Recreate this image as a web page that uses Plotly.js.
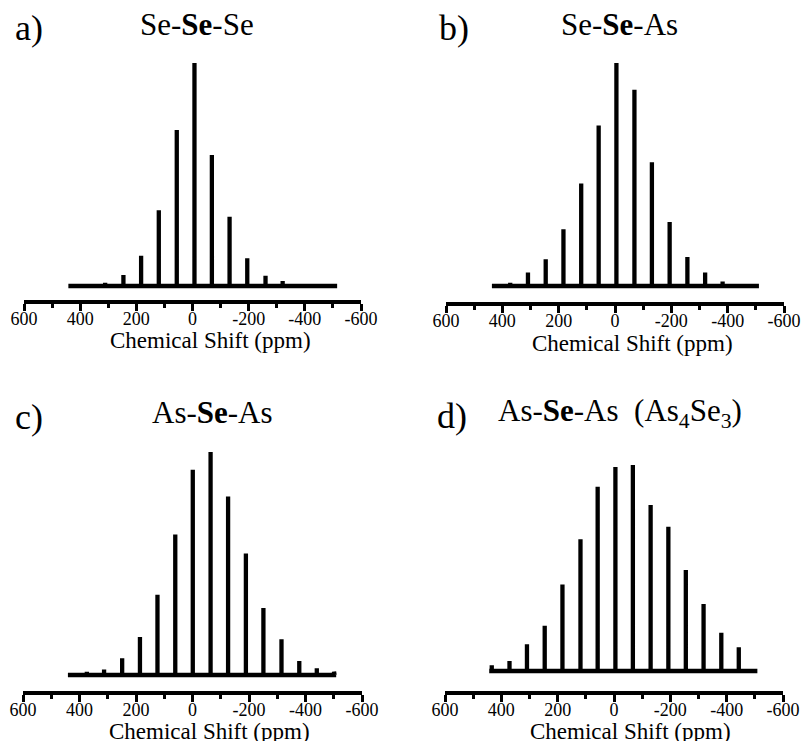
<!DOCTYPE html>
<html>
<head>
<meta charset="utf-8">
<script src="https://cdn.plot.ly/plotly-3.0.1.min.js"></script>
<style>
html,body{margin:0;padding:0;background:#fff;}
#chart{width:806px;height:741px;}
</style>
</head>
<body>
<div id="chart"></div>
<script>
// ---------- data ----------
const tickVals = [600, 400, 200, 0, -200, -400, -600];
const tickText = ['600', '400', '200', '0', '-200', '-400', '-600'];
const minorTickVals = [500, 300, 100, -100, -300, -500];
const axisTitle = 'Chemical Shift (ppm)';

const panelLabels = ['a)', 'b)', 'c)', 'd)'];
const panelTitles = [
  'Se-<b>Se</b>-Se',
  'Se-<b>Se</b>-As',
  'As-<b>Se</b>-As',
  'As-<b>Se</b>-As\u00a0\u00a0(As<sub>4</sub>Se<sub>3</sub>)'
];

// a) Se-Se-Se : sideband positions (ppm) and relative intensities
const shiftA = [311, 246, 183, 120, 56, -7, -69, -132, -195, -260, -321];
const intA   = [1.5, 4.9, 13.6, 34, 70, 100, 58.7, 31, 12.4, 4.6, 2.2];
const baseA  = [442, -515];

// b) Se-Se-As
const shiftB = [372, 309, 246, 183, 120, 58, -5, -69, -131, -194, -257, -320, -382, -445];
const intB   = [1.5, 6, 12, 25.5, 46, 72, 100, 88, 55.5, 28.7, 13, 6, 2, 0.7];
const baseB  = [437, -511];

// c) As-Se-As
const shiftC = [374, 313, 249, 186, 124, 61, -1, -64, -126, -189, -251, -315, -378, -440, -501];
const intC   = [1.5, 2.5, 7.5, 17, 36, 63, 92, 100, 80, 54.5, 30, 16, 6.3, 3, 1.5];
const baseC  = [441, -503];

// d) As-Se-As (As4Se3)
const shiftD = [434, 371, 309, 246, 183, 119, 58, -5, -67, -130, -193, -255, -318, -381, -443];
const intD   = [2.8, 4.9, 13, 22, 42, 64, 89.5, 99, 100, 80.6, 70, 49, 32.5, 18.6, 11.5];
const baseD  = [443, -509];

// ---------- layout geometry (pixels) ----------
const W = 806, H = 741;
const FONT = 'Liberation Serif';
const geom = [
  {xL: 24,  xR: 361, axisY: 302, baseY: 286, topY: 63,
   lab: [13, 40], tit: [197, 35], axt: [210, 348]},
  {xL: 446, xR: 784, axisY: 304, baseY: 286, topY: 63,
   lab: [437, 40], tit: [619, 35], axt: [632, 351]},
  {xL: 23,  xR: 362, axisY: 693, baseY: 675, topY: 452,
   lab: [13, 429], tit: [212, 423], axt: [209, 739]},
  {xL: 445, xR: 783, axisY: 693, baseY: 671, topY: 465,
   lab: [435, 428], tit: [620, 423], axt: [630, 739]}
];

const series = [
  {s: shiftA, v: intA, b: baseA},
  {s: shiftB, v: intB, b: baseB},
  {s: shiftC, v: intC, b: baseC},
  {s: shiftD, v: intD, b: baseD}
];

function stickPath(shifts, ints, base) {
  const x = [base[0]], y = [0];
  for (let i = 0; i < shifts.length; i++) {
    x.push(shifts[i], shifts[i], shifts[i]);
    y.push(0, ints[i], 0);
  }
  x.push(base[1]); y.push(0);
  return {x, y};
}

const traces = [];
const layout = {
  width: W, height: H,
  margin: {l: 0, r: 0, t: 0, b: 0},
  paper_bgcolor: '#fff', plot_bgcolor: 'rgba(0,0,0,0)',
  showlegend: false,
  font: {family: FONT, size: 18, color: '#000'},
  annotations: []
};

const LW = 4;
const fy = py => 1 - py / H;
const fx = px => px / W;

geom.forEach((g, i) => {
  const n = i + 1;
  const sfx = n === 1 ? '' : String(n);
  const p = stickPath(series[i].s, series[i].v, series[i].b);
  traces.push({
    type: 'scatter', mode: 'lines', x: p.x, y: p.y,
    xaxis: 'x' + sfx, yaxis: 'y' + sfx,
    line: {color: '#000', width: 4.3}, cliponaxis: false, hoverinfo: 'skip'
  });
  const ppu = (g.baseY - g.topY) / 100;
  const domBottom = g.axisY - LW / 2;
  const ymax = 106;
  const domTop = g.baseY - ymax * ppu;
  const ymin = -(domBottom - g.baseY) / ppu;
  layout['xaxis' + sfx] = {
    domain: [fx(g.xL), fx(g.xR)],
    anchor: 'y' + sfx,
    range: [600, -600], autorange: false, fixedrange: true,
    showgrid: false, zeroline: false,
    showline: true, linecolor: '#000', linewidth: LW,
    ticks: 'outside', ticklen: 7, tickwidth: 3, tickcolor: '#000',
    tickmode: 'array', tickvals: tickVals, ticktext: tickText,
    tickfont: {family: FONT, size: 18, color: '#000'},
    ticklabelstandoff: -8,
    minor: {tickmode: 'array', tickvals: minorTickVals, ticks: 'outside',
            ticklen: 4, tickwidth: 3, tickcolor: '#000', showgrid: false}
  };
  layout['yaxis' + sfx] = {
    domain: [fy(domBottom), fy(domTop)],
    anchor: 'x' + sfx,
    range: [ymin, ymax], autorange: false, fixedrange: true,
    visible: false, showgrid: false, zeroline: false
  };
  layout.annotations.push({
    xref: 'paper', yref: 'paper', x: fx(g.lab[0]), y: fy(g.lab[1] - 0.3375 * 36),
    xanchor: 'left', yanchor: 'middle', showarrow: false,
    text: panelLabels[i], font: {family: FONT, size: 36, color: '#000'}
  });
  layout.annotations.push({
    xref: 'paper', yref: 'paper', x: fx(g.tit[0]), y: fy(g.tit[1] - 0.3375 * 31),
    xanchor: 'center', yanchor: 'middle', showarrow: false,
    text: panelTitles[i], font: {family: FONT, size: 31, color: '#000'}
  });
  layout.annotations.push({
    xref: 'paper', yref: 'paper', x: fx(g.axt[0]), y: fy(g.axt[1] - 0.3375 * 23),
    xanchor: 'center', yanchor: 'middle', showarrow: false,
    text: axisTitle, font: {family: FONT, size: 23, color: '#000'}
  });
});

Plotly.newPlot('chart', traces, layout, {staticPlot: true, displayModeBar: false});
</script>
</body>
</html>
